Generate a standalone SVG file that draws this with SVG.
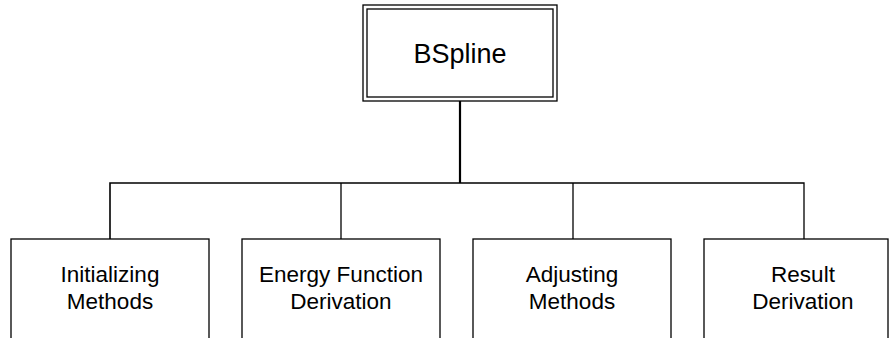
<svg xmlns="http://www.w3.org/2000/svg" width="890" height="338" viewBox="0 0 890 338">
<style>
.box{fill:#fff;stroke:#000;stroke-width:1.3}
.ln{fill:none;stroke:#000;stroke-width:1.3}
.t{font-family:"Liberation Sans",Arial,sans-serif;font-size:22.5px;fill:#000;text-anchor:middle}
</style>
<rect width="890" height="338" fill="#fff"/>
<g id="connectors">
<path class="ln" d="M460,101 V183" style="stroke-width:2.2"/>
<path class="ln" d="M110,239 V183 H460" style="stroke-width:1.6"/>
<path class="ln" d="M460,183 H804 V239"/>
<path class="ln" d="M341,183 V239"/>
<path class="ln" d="M573,183 V239"/>
</g>
<g id="bspline">
<rect class="box" x="363" y="5" width="194" height="96"/>
<rect class="box" x="367" y="9" width="186" height="88"/>
<text class="t" x="460" y="63" style="font-size:27px">BSpline</text>
</g>
<g id="initializing">
<rect class="box" x="11" y="239" width="198" height="110"/>
<text class="t" x="110" y="282">Initializing</text>
<text class="t" x="110" y="309">Methods</text>
</g>
<g id="energy">
<rect class="box" x="242" y="239" width="198" height="110"/>
<text class="t" x="341" y="282">Energy Function</text>
<text class="t" x="341" y="309">Derivation</text>
</g>
<g id="adjusting">
<rect class="box" x="473" y="239" width="198" height="110"/>
<text class="t" x="572" y="282">Adjusting</text>
<text class="t" x="572" y="309">Methods</text>
</g>
<g id="result">
<rect class="box" x="704" y="239" width="184" height="110"/>
<text class="t" x="803" y="282">Result</text>
<text class="t" x="803" y="309">Derivation</text>
</g>
</svg>
